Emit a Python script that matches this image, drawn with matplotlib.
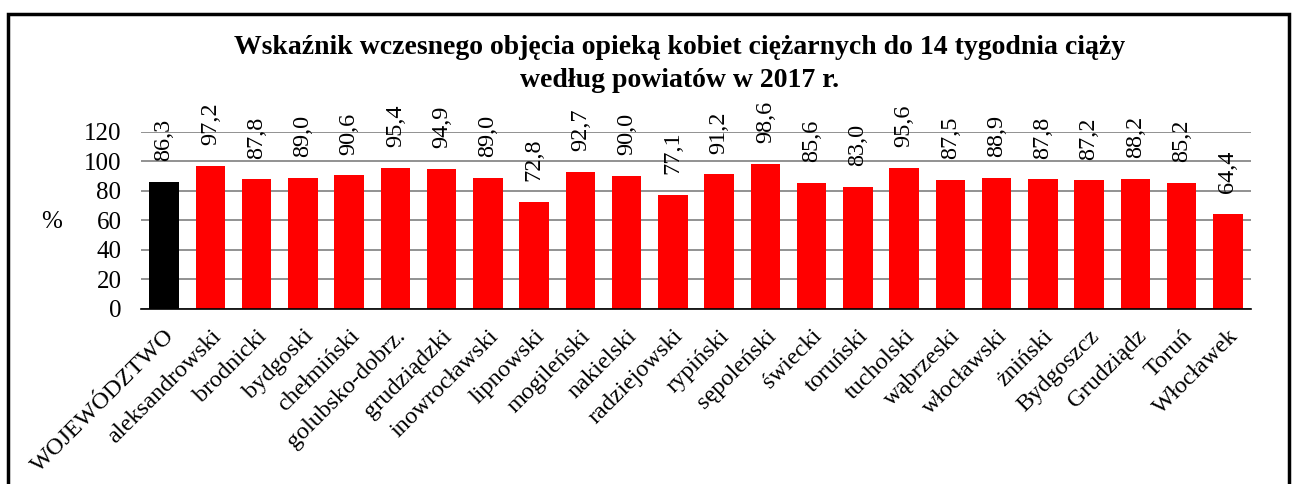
import matplotlib
matplotlib.use("Agg")
import matplotlib.pyplot as plt
from matplotlib.patches import Rectangle

categories = ["WOJEWÓDZTWO", "aleksandrowski", "brodnicki", "bydgoski", "chełmiński",
              "golubsko-dobrz.", "grudziądzki", "inowrocławski", "lipnowski", "mogileński",
              "nakielski", "radziejowski", "rypiński", "sępoleński", "świecki", "toruński",
              "tucholski", "wąbrzeski", "włocławski", "żniński", "Bydgoszcz", "Grudziądz",
              "Toruń", "Włocławek"]
values = [86.3, 97.2, 87.8, 89.0, 90.6, 95.4, 94.9, 89.0, 72.8, 92.7, 90.0, 77.1,
          91.2, 98.6, 85.6, 83.0, 95.6, 87.5, 88.9, 87.8, 87.2, 88.2, 85.2, 64.4]
yticks = [0, 20, 40, 60, 80, 100, 120]
title = "Wskaźnik wczesnego objęcia opieką kobiet ciężarnych do 14 tygodnia ciąży\nwedług powiatów w 2017 r."

plt.rcParams['font.family'] = ['Liberation Serif', 'DejaVu Serif']

fig = plt.figure(figsize=(12.93, 4.84), dpi=100)
ax = fig.add_axes([0.109, 0.3616, 0.8585, 0.3657])

n = len(categories)
x = list(range(n))
colors = ['black'] + ['#ff0000'] * (n - 1)
ax.bar(x, values, width=0.64, color=colors, zorder=3)

ax.set_ylim(0, 120)
ax.set_xlim(-0.5, n - 0.5)
ax.set_yticks(yticks)
ax.set_yticklabels([str(t) for t in yticks], fontsize=18)
ax.tick_params(axis='y', length=0, pad=14)
ax.tick_params(axis='x', length=0, pad=12)
ax.set_xticks(x)
ax.set_xticklabels(categories, rotation=45, ha='right', rotation_mode='anchor', fontsize=17.5)
ax.yaxis.grid(True, color='#7f7f7f', linewidth=1.2, zorder=0)
for s in ['top', 'right', 'left']:
    ax.spines[s].set_visible(False)
ax.spines['bottom'].set_color('black')
ax.spines['bottom'].set_linewidth(1.2)
ax.spines['bottom'].set_zorder(4)

for xi, v in zip(x, values):
    ax.annotate(f"{v:.1f}".replace('.', ','), xy=(xi, v), xytext=(0, 15),
                textcoords='offset points', rotation=90, ha='center', va='bottom',
                fontsize=17.5, annotation_clip=False)

fig.text(52 / 1293, 1 - 222 / 484, "%", fontsize=18, ha='center', va='center')
fig.text(0.5256, 1 - 64 / 484, title, fontsize=20, fontweight='bold',
         ha='center', va='center', linespacing=1.4)

fig.patches.append(Rectangle((8 / 1293, -0.05), (1289 - 8) / 1293, 1.05 - 14 / 484,
                             transform=fig.transFigure, fill=False, edgecolor='black',
                             linewidth=2.5))

fig.savefig("out.png", dpi=100)
